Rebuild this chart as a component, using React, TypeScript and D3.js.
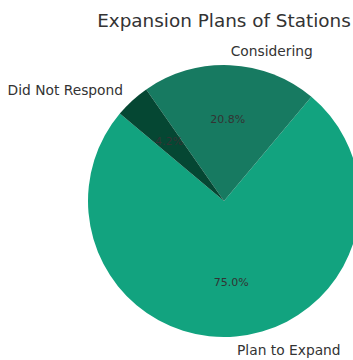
import React from "react";
import * as d3 from "d3";

const labels = ["Plan to Expand", "Considering", "Did Not Respond"];
const values = [75.0, 20.8, 4.2];
const colors = ["#12a37f", "#177a61", "#054733"];

const W = 353, H = 360;
const cx = 224, cy = 201, R = 136;
const startDeg = 140;

export default function App() {
  const total = d3.sum(values);
  const toRad = (d: number) => (d * Math.PI) / 180;
  let acc = startDeg;
  const slices = values.map((v, i) => {
    const a0 = acc;
    const a1 = acc + (v / total) * 360;
    acc = a1;
    return { i, v, a0, a1 };
  });
  const arc = d3.arc<any>().innerRadius(0).outerRadius(R);
  const fmt = d3.format(".1f");
  return (
    <svg width={W} height={H} style={{ position: "absolute", left: 0, top: 0 }}>
      <rect width={W} height={H} fill="#fff" />
      <text x={224} y={27} textAnchor="middle" fontFamily="DejaVu Sans" fontSize={18.4} fill="#333">
        Expansion Plans of Stations
      </text>
      <g transform={`translate(${cx},${cy})`}>
        {slices.map((s) => (
          <path
            key={s.i}
            d={arc({ startAngle: toRad(90 - s.a1), endAngle: toRad(90 - s.a0) }) as string}
            fill={colors[s.i]}
          />
        ))}
        {slices.map((s) => {
          const mid = toRad((s.a0 + s.a1) / 2);
          const lx = Math.cos(mid) * R * 1.1;
          const ly = -Math.sin(mid) * R * 1.1;
          const px = Math.cos(mid) * R * 0.6;
          const py = -Math.sin(mid) * R * 0.6;
          return (
            <g key={"t" + s.i}>
              <text x={lx} y={ly} dy="0.35em" textAnchor={lx > 0 ? "start" : "end"} fontFamily="DejaVu Sans" fontSize={13.8} fill="#333">
                {labels[s.i]}
              </text>
              <text x={px} y={py} dy="0.35em" textAnchor="middle" fontFamily="DejaVu Sans" fontSize={11} fill="#333">
                {fmt(s.v)}%
              </text>
            </g>
          );
        })}
      </g>
    </svg>
  );
}
